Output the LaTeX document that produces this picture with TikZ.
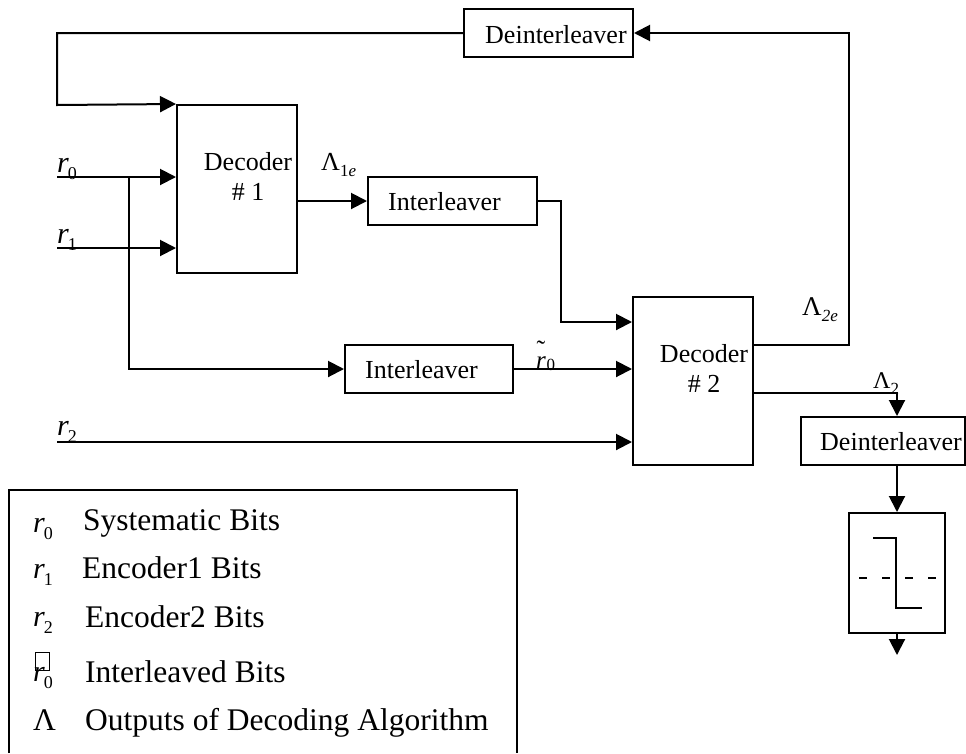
\documentclass[tikz,border=0pt]{standalone}
\usepackage{fontspec}
\setmainfont{Liberation Serif}
\usetikzlibrary{arrows.meta}

% symbol with a lowered index
\newcommand\rsym[1]{\textit{r}\kern-1pt\raisebox{-7pt}{\fontsize{18}{18}\selectfont #1}}
\newcommand\Lsym[2]{{\fontsize{#2}{#2}\selectfont Λ}\raisebox{-6pt}{\fontsize{17}{17}\selectfont #1}}

\tikzset{
  blk/.style={draw, line width=2pt, rectangle, inner sep=0pt},
  arr/.style={line width=2pt, -{Triangle[length=16pt,width=16pt]}},
  wire/.style={line width=2pt},
  txt/.style={inner sep=0pt, anchor=base west, font=\fontsize{26}{30}\selectfont},
  ctxt/.style={inner sep=0pt, anchor=base, font=\fontsize{26}{30}\selectfont},
  sym/.style={inner sep=0pt, anchor=base west, font=\fontsize{30}{30}\selectfont},
  leg/.style={inner sep=0pt, anchor=base west, font=\fontsize{31.5}{34}\selectfont},
}

\begin{document}
\begin{tikzpicture}[x=1pt, y=-1pt]
\useasboundingbox (0,0) rectangle (966,753);

% ---- blocks ----
\node[blk, minimum width=169pt, minimum height=48pt] (dein1) at (548.5,33) {};
\node[blk, minimum width=120pt, minimum height=168pt] (dec1) at (237,189) {};
\node[blk, minimum width=169pt, minimum height=48pt] (int1) at (452.5,201) {};
\node[blk, minimum width=168pt, minimum height=48pt] (int2) at (429,369) {};
\node[blk, minimum width=120pt, minimum height=168pt] (dec2) at (693,381) {};
\node[blk, minimum width=164pt, minimum height=48pt] (dein2) at (883,441) {};
\node[blk, minimum width=96pt, minimum height=120pt] (hard) at (897,573) {};

% ---- block texts ----
\node[txt] (tdein1) at (485,43) {Deinterleaver};
\node[ctxt] (tdec1a) at (248,170) {Decoder};
\node[ctxt] (tdec1b) at (248,200) {\# 1};
\node[txt] (tint1) at (388,210) {Interleaver};
\node[txt] (tint2) at (365,378) {Interleaver};
\node[ctxt] (tdec2a) at (704,362) {Decoder};
\node[ctxt] (tdec2b) at (704,392) {\# 2};
\node[txt] (tdein2) at (820,450) {Deinterleaver};

% ---- coordinates for wires ----
\coordinate (in0) at (57,177);
\coordinate (in1) at (57,248);
\coordinate (in2) at (57,442);
\coordinate (split) at (129,177);
\coordinate (fbL) at (57,105);
\coordinate (turn1) at (561,322);
\coordinate (fbR) at (849,345);
\coordinate (o2) at (897,393);
\coordinate (hout) at (897,655);

% ---- connectors ----
\draw[arr] (dein1.west) -| (fbL) -- (dec1.north west);
\draw[arr] (in0) -- (in0 -| dec1.west);
\draw[arr] (in1) -- (in1 -| dec1.west);
\draw[arr] (split) |- (int2.west);
\draw[arr] (int1.west -| dec1.east) -- (int1.west);
\draw[arr] (int1.east) -| (turn1) -- (turn1 -| dec2.west);
\draw[arr] (int2.east) -- (int2.east -| dec2.west);
\draw[arr] (in2) -- (in2 -| dec2.west);
\draw[arr] (fbR -| dec2.east) -- (fbR) |- (dein1.east);
\draw[arr] (o2 -| dec2.east) -- (o2) -- (o2 |- dein2.north);
\draw[arr] (hard.north |- dein2.south) -- (hard.north);
\draw[arr] (hard.south) -- (hout);

% ---- hard decision symbol ----
\coordinate (s1) at (873,538);
\coordinate (s2) at (896,538);
\coordinate (s3) at (896,608);
\coordinate (s4) at (922,608);
\draw[wire] (s1) -- (s2) -- (s3) -- (s4);
\coordinate (d1) at (859,578);
\coordinate (d2) at (939,578);
\draw[wire, dash pattern=on 8pt off 15pt] (d1) -- (d2);

% ---- signal labels ----
\node[sym] (lr0) at (57,172) {\rsym{0}};
\node[sym] (lr1) at (57,243) {\rsym{1}};
\node[sym] (lr2) at (57,435) {\rsym{2}};
\node[inner sep=0pt, anchor=base west] (l1e) at (321,170) {\Lsym{1\textit{e}}{26}};
\node[inner sep=0pt, anchor=base west] (l2e) at (802,315) {\Lsym{\textit{2e}}{27}};
\node[inner sep=0pt, anchor=base west] (l2) at (873,388) {\Lsym{2}{24}};
% interleaved systematic bits: r with a tilde above
\node[inner sep=0pt, anchor=base west, font=\fontsize{25}{25}\selectfont] (lrt) at (536,368)
  {\rlap{\kern0.5pt\raisebox{10pt}{\fontsize{26}{26}\selectfont ˜}}\textit{r}\kern0.5pt\raisebox{-2pt}{\fontsize{17}{17}\selectfont 0}};

% ---- legend ----
\draw[wire] (9,753) -- (9,490) -- (517,490) -- (517,753);
\node[sym] (k0) at (33,532) {\rsym{0}};
\node[leg] (t0) at (83,530) {Systematic Bits};
\node[sym] (k1) at (33,578) {\rsym{1}};
\node[leg] (t1) at (82,578) {Encoder1 Bits};
\node[sym] (k2) at (33,626) {\rsym{2}};
\node[leg] (t2) at (85,627) {Encoder2 Bits};
\node[sym] (k3) at (33,681) {\rsym{0}};
\draw[line width=0.8pt] (35.5,652) rectangle (49,670);
\node[leg] (t3) at (85,682) {Interleaved Bits};
\node[leg] (k4) at (33,730) {Λ};
\node[leg] (t4) at (85,730) {Outputs of Decoding Algorithm};
\end{tikzpicture}
\end{document}
